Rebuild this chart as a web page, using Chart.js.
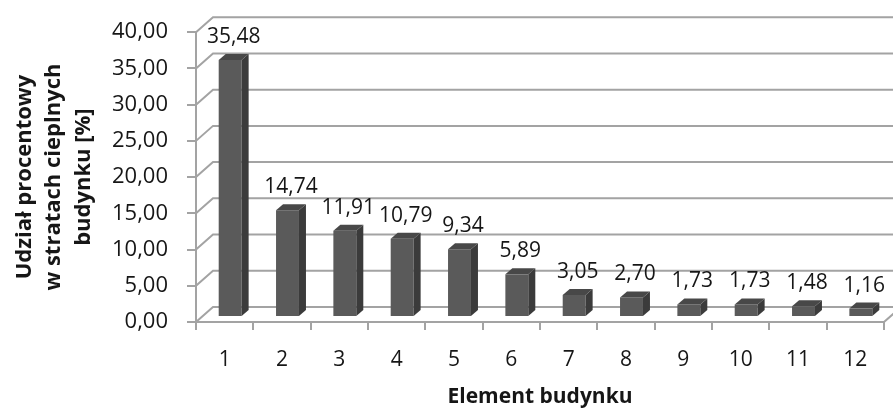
<!DOCTYPE html>
<html>
<head>
<meta charset="utf-8">
<script src="https://cdn.jsdelivr.net/npm/chart.js@4/dist/chart.umd.min.js"></script>
<style>
  html, body { margin: 0; padding: 0; background: #ffffff; }
  #c { display: block; }
</style>
</head>
<body>
<canvas id="c" width="893" height="410"></canvas>
<script>
// Element budynku (building element number)
const categories = ['1', '2', '3', '4', '5', '6', '7', '8', '9', '10', '11', '12'];
// Udział procentowy w stratach cieplnych budynku [%]
const shares = [35.48, 14.74, 11.91, 10.79, 9.34, 5.89, 3.05, 2.70, 1.73, 1.73, 1.48, 1.16];
// Value axis ticks
const yTickValues = [0, 5, 10, 15, 20, 25, 30, 35, 40];
const yTickLabels = ['0,00', '5,00', '10,00', '15,00', '20,00', '25,00', '30,00', '35,00', '40,00'];
const yTitle = ['Udział procentowy', 'w stratach cieplnych', 'budynku [%]'];
const xTitle = 'Element budynku';

const FONT = '"Open Sans", "DejaVu Sans", sans-serif';
const GRID = '#a3a3a3';
const TEXT = '#161616';

// depth of the back wall and of the columns (pseudo 3-D projection)
const WALL = { dx: 17, dy: -15 };
const BAR_SHIFT = { dx: 5.5, dy: -5 };
const BAR_DEPTH = { dx: 7, dy: -6 };
const FACE = { front: '#5a5a5a', side: '#3b3b3b', top: '#484848' };

const fmt = v => v.toFixed(2).replace('.', ',');

// back wall, side wall diagonals and floor
const wallPlugin = {
  id: 'wall3d',
  beforeDatasetsDraw(chart) {
    const { ctx, chartArea: a, scales: { y } } = chart;
    ctx.save();
    ctx.strokeStyle = GRID;
    ctx.lineWidth = 2;
    yTickValues.forEach(v => {
      const py = y.getPixelForValue(v);
      ctx.beginPath();
      ctx.moveTo(a.left, py);
      ctx.lineTo(a.left + WALL.dx, py + WALL.dy);
      ctx.lineTo(chart.width + 20, py + WALL.dy);
      ctx.stroke();
    });
    // right edge of the floor
    const p0 = y.getPixelForValue(0);
    ctx.beginPath();
    ctx.moveTo(a.right, p0);
    ctx.lineTo(a.right + WALL.dx, p0 + WALL.dy);
    ctx.stroke();
    ctx.restore();
    // columns sit a little behind the front plane
    ctx.save();
    ctx.translate(BAR_SHIFT.dx, BAR_SHIFT.dy);
  },
  afterDatasetsDraw(chart) {
    const { ctx } = chart;
    const meta = chart.getDatasetMeta(0);
    meta.data.forEach(bar => {
      const { x, y, base, width } = bar.getProps(['x', 'y', 'base', 'width'], true);
      const l = x - width / 2, r = x + width / 2;
      // side face
      ctx.fillStyle = FACE.side;
      ctx.beginPath();
      ctx.moveTo(r, y);
      ctx.lineTo(r + BAR_DEPTH.dx, y + BAR_DEPTH.dy);
      ctx.lineTo(r + BAR_DEPTH.dx, base + BAR_DEPTH.dy);
      ctx.lineTo(r, base);
      ctx.closePath();
      ctx.fill();
      // top face
      ctx.fillStyle = FACE.top;
      ctx.beginPath();
      ctx.moveTo(l, y);
      ctx.lineTo(l + BAR_DEPTH.dx, y + BAR_DEPTH.dy);
      ctx.lineTo(r + BAR_DEPTH.dx, y + BAR_DEPTH.dy);
      ctx.lineTo(r, y);
      ctx.closePath();
      ctx.fill();
    });
    ctx.restore();

    // value labels above the columns
    ctx.save();
    ctx.font = '21px ' + FONT;
    ctx.fillStyle = TEXT;
    ctx.textAlign = 'center';
    ctx.textBaseline = 'middle';
    meta.data.forEach((bar, i) => {
      const { x, y } = bar.getProps(['x', 'y'], true);
      const topBack = y + BAR_SHIFT.dy + BAR_DEPTH.dy;
      ctx.fillText(fmt(shares[i]), x + BAR_SHIFT.dx + BAR_DEPTH.dx / 2, topBack - 17);
    });
    ctx.restore();
  }
};

new Chart(document.getElementById('c'), {
  type: 'bar',
  data: {
    labels: categories,
    datasets: [{
      data: shares,
      backgroundColor: FACE.front,
      borderWidth: 0,
      barPercentage: 0.8,
      categoryPercentage: 0.5,
      clip: false
    }]
  },
  options: {
    responsive: false,
    animation: false,
    events: [],
    layout: { padding: { left: 0, right: 9, top: 32, bottom: 0 } },
    plugins: { legend: { display: false }, tooltip: { enabled: false } },
    scales: {
      x: {
        grid: { offset: true, drawOnChartArea: false, tickLength: 8, color: GRID, lineWidth: 2 },
        border: { color: GRID, width: 2 },
        ticks: { color: TEXT, font: { family: FONT, size: 21 }, padding: 17, maxRotation: 0 },
        title: { display: true, text: xTitle, color: TEXT, font: { family: FONT, size: 21, weight: 'bold', lineHeight: 1.0 }, padding: { top: 0, bottom: 2 } },
        afterFit(s) { s.height = 88; }
      },
      y: {
        min: 0,
        max: 40,
        afterBuildTicks(s) { s.ticks = yTickValues.map(v => ({ value: v })); },
        ticks: { color: TEXT, font: { family: FONT, size: 22 }, padding: 19, callback: (v, i) => yTickLabels[i] },
        grid: { drawOnChartArea: false, tickLength: 9, color: GRID, lineWidth: 2 },
        border: { color: GRID, width: 2 },
        title: { display: true, text: yTitle, color: TEXT, font: { family: FONT, size: 22, weight: 'bold', lineHeight: 1.34 }, padding: { top: 10, bottom: 0 } },
        afterFit(s) { s.width = 196; }
      }
    }
  },
  plugins: [wallPlugin]
});
</script>
</body>
</html>
